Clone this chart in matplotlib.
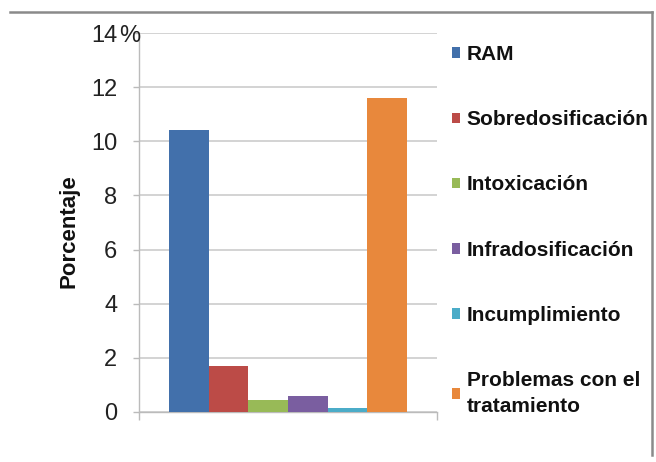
import matplotlib
matplotlib.use("Agg")
import matplotlib.pyplot as plt
from matplotlib.lines import Line2D
from matplotlib.patches import Patch

categories = ["RAM", "Sobredosificación", "Intoxicación", "Infradosificación",
              "Incumplimiento", "Problemas con el\ntratamiento"]
values = [10.4, 1.7, 0.45, 0.6, 0.15, 11.6]
colors = ["#4270AB", "#BC4B47", "#98BA57", "#7A5EA0", "#4BACC8", "#E8883C"]
yticks = [0, 2, 4, 6, 8, 10, 12, 14]
ylabels = ["0", "2", "4", "6", "8", "10", "12", "14"]

W, H = 656, 462
plt.rcParams["font.family"] = ["Liberation Sans", "DejaVu Sans"]
fig = plt.figure(figsize=(W / 100, H / 100), dpi=100)
ax = fig.add_axes([139 / W, 1 - 412 / H, (437 - 139) / W, (412 - 33) / H])

n = len(values)
group = 0.8
bw = group / n
for i, (v, c) in enumerate(zip(values, colors)):
    x = -group / 2 + bw * (i + 0.5)
    ax.bar(x, v, width=bw, color=c, zorder=3, label=categories[i])

ax.set_xlim(-0.5, 0.5)
ax.set_ylim(0, 14)
ax.set_yticks(yticks)
ax.set_yticklabels(ylabels, fontsize=17, color="#222222")
ax.set_xticks([-0.5, 0.5])
ax.set_xticklabels(["", ""])
ax.tick_params(axis="y", length=4.5, width=1, color="#BBBBBB", pad=11)
ax.tick_params(axis="x", length=5.5, width=1, color="#BBBBBB")
ax.grid(axis="y", color="#CCCCCC", linewidth=1.2, zorder=0)
for s in ["top", "right"]:
    ax.spines[s].set_visible(False)
for s in ["left", "bottom"]:
    ax.spines[s].set_color("#BBBBBB")
    ax.spines[s].set_linewidth(1)

ax.annotate("%", xy=(0, 14), xycoords=("axes fraction", "data"),
            xytext=(-20, 0), textcoords="offset pixels", ha="left",
            va="center_baseline", fontsize=17, color="#222222")

fig.text(69 / W, 1 - 231 / H, "Porcentaje", rotation=90, ha="center", va="center",
         fontsize=16, fontweight="bold", color="#111111")

handles = [Patch(facecolor=c, edgecolor="none") for c in colors]
leg = fig.legend(handles, categories, loc="upper left",
                 bbox_to_anchor=(452 / W, 1 - 45 / H), frameon=False,
                 prop={"size": 15, "weight": "bold"}, handlelength=0.4,
                 handleheight=0.4, handletextpad=0.3, labelspacing=2.22,
                 borderpad=0, borderaxespad=0)
for t in leg.get_texts():
    t.set_color("#111111")
    t.set_linespacing(1.45)

# outer chart border (top and right)
fig.add_artist(Line2D([10 / W, 652 / W], [1 - 12 / H, 1 - 12 / H], color="#8A8A8A", lw=1.8))
fig.add_artist(Line2D([652 / W, 652 / W], [1 - 12 / H, 1 - 455 / H], color="#8A8A8A", lw=1.8))

fig.savefig("out.png", dpi=100)
